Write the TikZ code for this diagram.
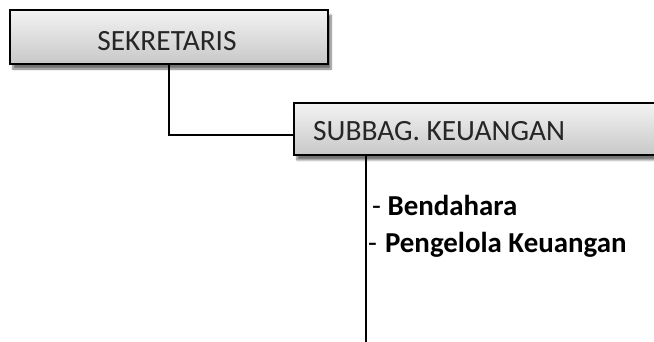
\documentclass[tikz,border=0pt]{standalone}
\usepackage{fontspec}
\setmainfont{Carlito}
\usetikzlibrary{shadows.blur}
\definecolor{boxtop}{HTML}{F3F3F3}
\definecolor{boxbot}{HTML}{C8C8C8}
\tikzset{
  orgbox/.style={draw=black, line width=1.8bp, top color=boxtop, bottom color=boxbot,
    blur shadow={shadow xshift=3bp, shadow yshift=-5bp, shadow blur steps=8, shadow opacity=55}},
  conn/.style={draw=black, line width=1.3bp},
  boxtext/.style={font=\fontsize{29.5}{34}\selectfont, text=black!85, inner sep=0pt},
  listtext/.style={font=\fontsize{29}{34}\selectfont, inner sep=0pt, anchor=base west}
}
\begin{document}
\begin{tikzpicture}[x=1bp,y=-1bp]
\useasboundingbox (0,0) rectangle (654,341);
\node[orgbox, minimum width=318bp, minimum height=54bp, inner sep=0pt] (sek) at (169,37) {};
\node[boxtext] (sektext) at (167,41) {SEKRETARIS};
\node[orgbox, minimum width=370bp, minimum height=52bp, inner sep=0pt, anchor=north west] (sub) at (293,102) {};
\node[boxtext, anchor=west] (subtext) at (313,131) {SUBBAG. KEUANGAN};
\coordinate (bend) at (169,135);
\coordinate (subdown) at (366,154);
\coordinate (bottom) at (366,345);
\draw[conn] (sek.south -| bend) -- (bend) -- (sub.west |- bend);
\draw[conn] (subdown) -- (bottom);
\node[listtext] (l1) at (372,215) {- \textbf{Bendahara}};
\node[listtext] (l2) at (368,252) {-\hspace{8bp}\textbf{Pengelola Keuangan}};
\end{tikzpicture}
\end{document}
